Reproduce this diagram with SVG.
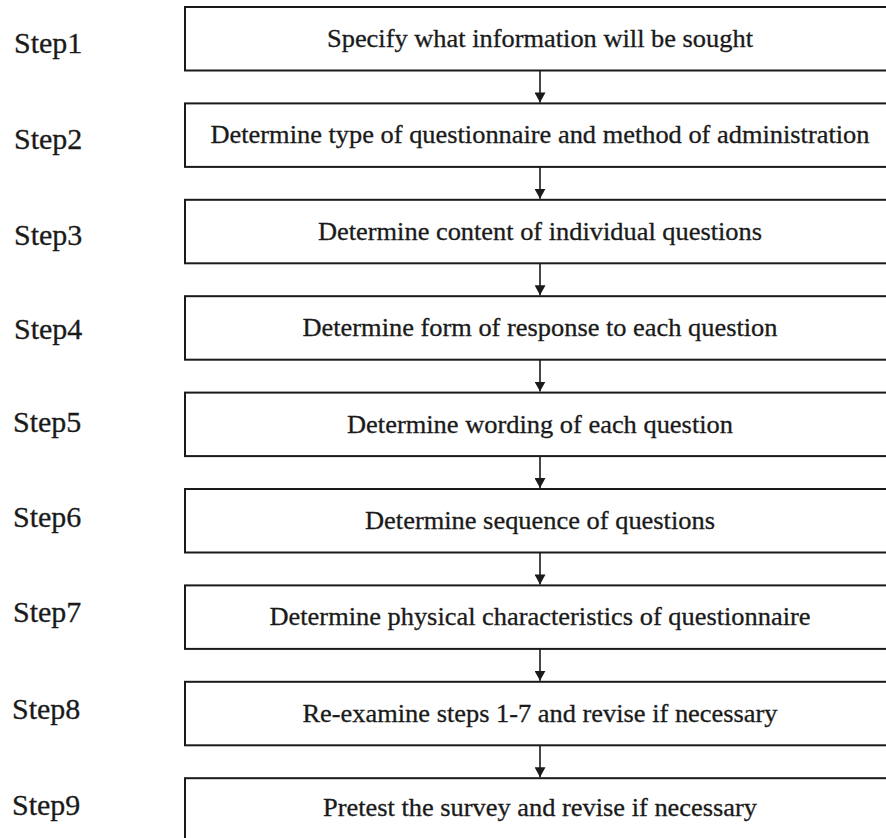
<svg xmlns="http://www.w3.org/2000/svg" width="886" height="838" viewBox="0 0 886 838">
  <style>
    .bg { fill: #ffffff; }
    .box { fill: #ffffff; stroke: #1a1a1a; stroke-width: 2; }
    .label { font-family: "Liberation Serif", "Times New Roman", serif; font-size: 30px; fill: #1a1a1a; stroke: #1a1a1a; stroke-width: 0.3; }
    .txt { font-family: "Liberation Serif", "Times New Roman", serif; font-size: 25px; fill: #1a1a1a; stroke: #1a1a1a; stroke-width: 0.3; text-anchor: middle; }
    .conn { stroke: #1a1a1a; stroke-width: 1.6; fill: none; }
  </style>
  <defs>
    <marker id="arrow" markerUnits="userSpaceOnUse" markerWidth="11" markerHeight="11" refX="10" refY="5.5" orient="auto">
      <path d="M0,0 L10,5.5 L0,11 z" fill="#1a1a1a"/>
    </marker>
  </defs>
  <rect class="bg" x="0" y="0" width="886" height="838"/>

  <!-- step labels -->
  <g id="labels">
    <text class="label" x="14" y="53">Step1</text>
    <text class="label" x="14" y="149">Step2</text>
    <text class="label" x="14" y="245">Step3</text>
    <text class="label" x="14" y="339">Step4</text>
    <text class="label" x="13" y="432">Step5</text>
    <text class="label" x="13" y="527">Step6</text>
    <text class="label" x="13" y="622">Step7</text>
    <text class="label" x="12" y="719">Step8</text>
    <text class="label" x="12" y="815">Step9</text>
  </g>

  <!-- process boxes (right edge runs off the page) -->
  <g id="step1">
    <rect class="box" x="185" y="7" width="720" height="63.5"/>
    <text class="txt" x="540" y="47" textLength="426" lengthAdjust="spacingAndGlyphs">Specify what information will be sought</text>
  </g>
  <g id="step2">
    <rect class="box" x="185" y="103.4" width="720" height="63.5"/>
    <text class="txt" x="540" y="143.4" textLength="659" lengthAdjust="spacingAndGlyphs">Determine type of questionnaire and method of administration</text>
  </g>
  <g id="step3">
    <rect class="box" x="185" y="199.8" width="720" height="63.5"/>
    <text class="txt" x="540" y="239.8" textLength="444" lengthAdjust="spacingAndGlyphs">Determine content of individual questions</text>
  </g>
  <g id="step4">
    <rect class="box" x="185" y="296.2" width="720" height="63.5"/>
    <text class="txt" x="540" y="336.2" textLength="475" lengthAdjust="spacingAndGlyphs">Determine form of response to each question</text>
  </g>
  <g id="step5">
    <rect class="box" x="185" y="392.6" width="720" height="63.5"/>
    <text class="txt" x="540" y="432.6" textLength="386" lengthAdjust="spacingAndGlyphs">Determine wording of each question</text>
  </g>
  <g id="step6">
    <rect class="box" x="185" y="489" width="720" height="63.5"/>
    <text class="txt" x="540" y="529" textLength="350" lengthAdjust="spacingAndGlyphs">Determine sequence of questions</text>
  </g>
  <g id="step7">
    <rect class="box" x="185" y="585.4" width="720" height="63.5"/>
    <text class="txt" x="540" y="625.4" textLength="541" lengthAdjust="spacingAndGlyphs">Determine physical characteristics of questionnaire</text>
  </g>
  <g id="step8">
    <rect class="box" x="185" y="681.8" width="720" height="63.5"/>
    <text class="txt" x="540" y="721.8" textLength="475" lengthAdjust="spacingAndGlyphs">Re-examine steps 1-7 and revise if necessary</text>
  </g>
  <g id="step9">
    <rect class="box" x="185" y="778.2" width="720" height="63.5"/>
    <text class="txt" x="540" y="816.2" textLength="434" lengthAdjust="spacingAndGlyphs">Pretest the survey and revise if necessary</text>
  </g>

  <!-- connectors -->
  <g id="connectors">
    <line class="conn" x1="540" y1="70.5" x2="540" y2="102.4" marker-end="url(#arrow)"/>
    <line class="conn" x1="540" y1="166.9" x2="540" y2="198.8" marker-end="url(#arrow)"/>
    <line class="conn" x1="540" y1="263.3" x2="540" y2="295.2" marker-end="url(#arrow)"/>
    <line class="conn" x1="540" y1="359.7" x2="540" y2="391.6" marker-end="url(#arrow)"/>
    <line class="conn" x1="540" y1="456.1" x2="540" y2="488" marker-end="url(#arrow)"/>
    <line class="conn" x1="540" y1="552.5" x2="540" y2="584.4" marker-end="url(#arrow)"/>
    <line class="conn" x1="540" y1="648.9" x2="540" y2="680.8" marker-end="url(#arrow)"/>
    <line class="conn" x1="540" y1="745.3" x2="540" y2="777.2" marker-end="url(#arrow)"/>
  </g>
</svg>
